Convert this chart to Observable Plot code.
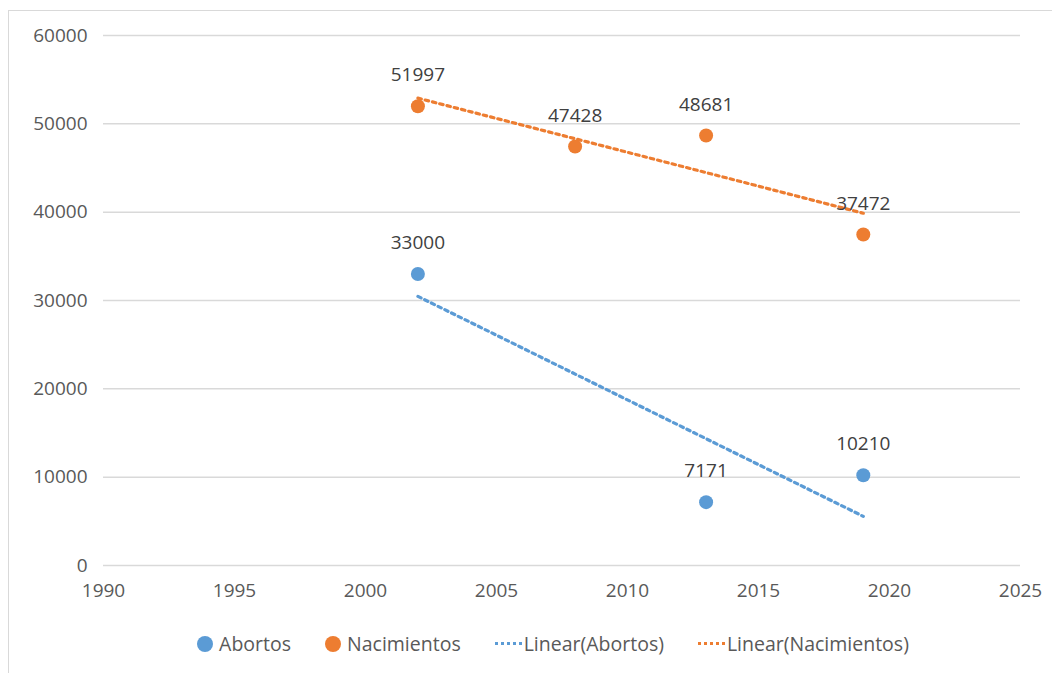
<!DOCTYPE html>
<html><head><meta charset="utf-8">
<script src="https://cdn.jsdelivr.net/npm/d3@7"></script>
<script src="https://cdn.jsdelivr.net/npm/@observablehq/plot@0.6"></script>
<style>
body{margin:0;background:#fff;font-family:"Open Sans","Noto Sans",sans-serif;}
#frame{position:absolute;left:8px;top:10px;width:1060px;height:680px;border:1px solid #d9d9d9;box-sizing:border-box;}
#chart{position:absolute;left:0;top:0;}
#chart g[aria-label$="tick label"]{font-size:19px;}
#chart .trend, #chart .trend path, #chart g[aria-label*="regression"] path{stroke-dasharray:3.5 4 !important;}
#legend{position:absolute;top:630px;left:0;width:1052px;display:flex;justify-content:center;padding-left:54px;box-sizing:border-box;gap:34px;font-size:19.5px;color:#595959;}
.it{display:flex;align-items:center;gap:6px;}
.dot{width:16px;height:16px;border-radius:50%;display:inline-block;}
.ln{width:27px;height:0;border-top:3px dotted;display:inline-block;}
</style></head><body>
<div id="frame"></div>
<div id="chart"></div>
<div id="legend"></div>
<script>
const abortosYears = [2002, 2013, 2019];
const abortosValues = [33000, 7171, 10210];
const nacYears = [2002, 2008, 2013, 2019];
const nacValues = [51997, 47428, 48681, 37472];
const xTicks = [1990, 1995, 2000, 2005, 2010, 2015, 2020, 2025];
const yTicks = [0, 10000, 20000, 30000, 40000, 50000, 60000];
const seriesNames = ["Abortos", "Nacimientos"];
const colors = ["#5B9BD5", "#ED7D31"];

const abortos = abortosYears.map((x, i) => ({x, y: abortosValues[i]}));
const nac = nacYears.map((x, i) => ({x, y: nacValues[i]}));

const plot = Plot.plot({
  width: 1052, height: 620,
  marginLeft: 103, marginRight: 32, marginTop: 35, marginBottom: 55,
  style: {fontFamily: '"Open Sans","Noto Sans",sans-serif', fontSize: "19px", color: "#595959", background: "transparent"},
  x: {domain: [1990, 2025], label: null},
  y: {domain: [0, 60000], label: null},
  marks: [
    Plot.gridY(yTicks, {stroke: "#d9d9d9", strokeOpacity: 1, strokeWidth: 1.5}),
    Plot.axisX({ticks: xTicks, tickFormat: d => String(d), tickSize: 0, tickPadding: 18, fill: "#595959", label: null}),
    Plot.axisY({ticks: yTicks, tickFormat: d => String(d), tickSize: 0, tickPadding: 16, fill: "#595959", label: null}),
    Plot.linearRegressionY(abortos, {x: "x", y: "y", ci: 0, stroke: colors[0], strokeWidth: 3.2, strokeDasharray: "3.5,4", className: "trend"}),
    Plot.linearRegressionY(nac, {x: "x", y: "y", ci: 0, stroke: colors[1], strokeWidth: 3.2, strokeDasharray: "3.5,4", className: "trend"}),
    Plot.dot(abortos, {x: "x", y: "y", r: 7, fill: colors[0], stroke: "none"}),
    Plot.dot(nac, {x: "x", y: "y", r: 7, fill: colors[1], stroke: "none"}),
    Plot.text(abortos, {x: "x", y: "y", text: d => String(d.y), dy: -31, fontSize: 19, fill: "#404040"}),
    Plot.text(nac, {x: "x", y: "y", text: d => String(d.y), dy: -31, fontSize: 19, fill: "#404040"})
  ]
});
document.getElementById("chart").appendChild(plot);

const lg = document.getElementById("legend");
seriesNames.forEach((n, i) => {
  lg.insertAdjacentHTML("beforeend", `<span class="it"><span class="dot" style="background:${colors[i]}"></span>${n}</span>`);
});
seriesNames.forEach((n, i) => {
  lg.insertAdjacentHTML("beforeend", `<span class="it" style="gap:2px"><span class="ln" style="border-color:${colors[i]}"></span>Linear(${n})</span>`);
});
</script>
</body></html>
